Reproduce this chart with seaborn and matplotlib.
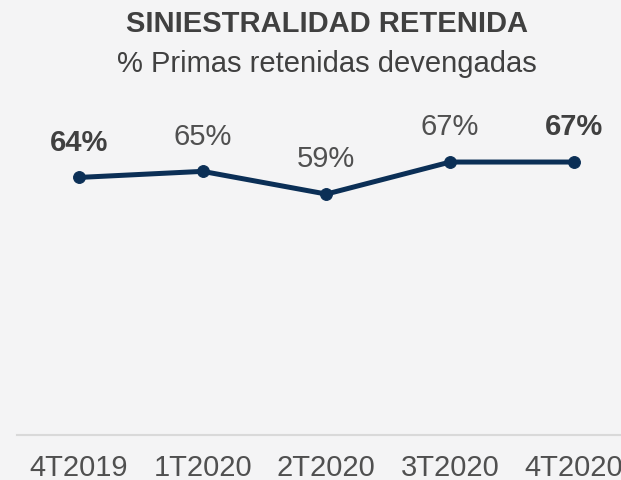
import matplotlib
matplotlib.use("Agg")
import matplotlib.pyplot as plt
import seaborn as sns

# Datos del gráfico
trimestres = ["4T2019", "1T2020", "2T2020", "3T2020", "4T2020"]
siniestralidad = [63.5, 65.0, 59.4, 67.3, 67.3]
etiquetas = ["64%", "65%", "59%", "67%", "67%"]
negrita = [True, False, False, False, True]

sns.set_theme(style="white")
plt.rcParams['font.family'] = ['Liberation Sans', 'DejaVu Sans']

fondo = "#f4f4f5"
azul = "#0b2f56"
gris_texto = "#505050"

fig = plt.figure(figsize=(6.21, 4.8), dpi=100, facecolor=fondo)
ax = fig.add_axes([17 / 621, 0.09375, 618.75 / 621, 0.676])
ax.set_facecolor(fondo)

sns.lineplot(x=trimestres, y=siniestralidad, ax=ax, color=azul, linewidth=3.6,
             marker="o", markersize=8.5, markeredgecolor=azul, sort=False)

for i, (v, lab, b) in enumerate(zip(siniestralidad, etiquetas, negrita)):
    ax.annotate(lab, (i, v), xytext=(0, 25), textcoords="offset points",
                ha="center", va="center", fontsize=21,
                fontweight="bold" if b else "normal",
                color="#404040" if b else gris_texto)

ax.set_xlim(-0.5, 4.5)
ax.set_ylim(0, 80)
ax.set_yticks([])
ax.set_xlabel("")
ax.set_ylabel("")
for s in ["top", "left", "right"]:
    ax.spines[s].set_visible(False)
ax.spines["bottom"].set_color("#d9d9d9")
ax.spines["bottom"].set_linewidth(1.5)
ax.tick_params(axis="x", length=0, pad=14, labelsize=21, labelcolor=gris_texto)

fig.text(327 / 621, 1 - 32 / 480, "SINIESTRALIDAD RETENIDA", ha="center",
         va="baseline", fontsize=21, fontweight="bold", color="#404040")
fig.text(327 / 621, 1 - 72 / 480, "% Primas retenidas devengadas", ha="center",
         va="baseline", fontsize=21, color="#404040")

fig.savefig("out.png", dpi=100, facecolor=fondo)
